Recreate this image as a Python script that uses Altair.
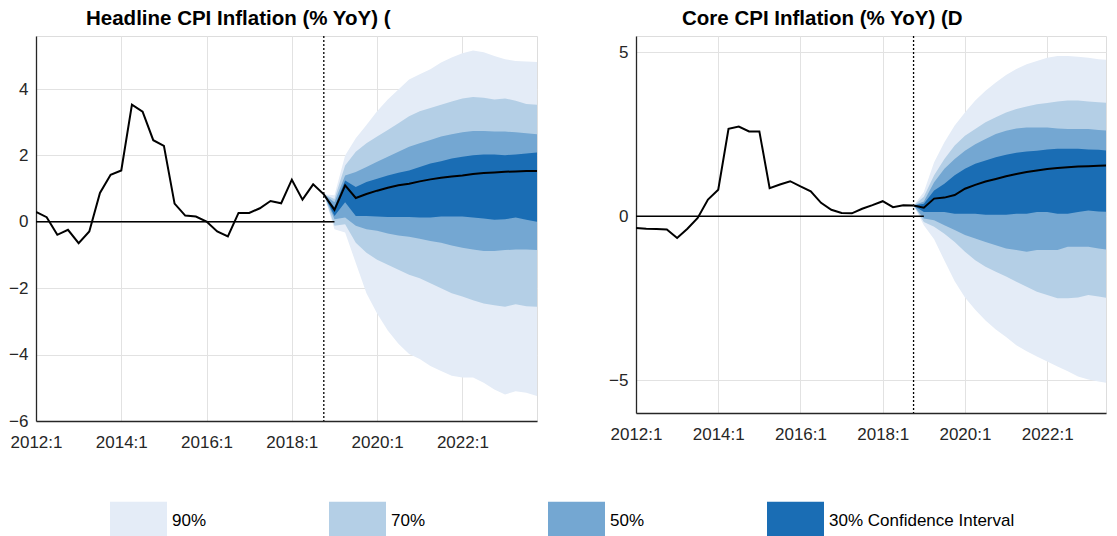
import altair as alt
import pandas as pd

# ---------------- data ----------------
hist_periods = [f"{y}:{q}" for y in range(2012, 2019) for q in range(1, 5)]
fc_periods = [f"{y}:{q}" for y in range(2019, 2024) for q in range(1, 5)]
x_tick_years = [2012, 2014, 2016, 2018, 2020, 2022]
forecast_start = "2018:4"
zero_line_span = ["2012:1", "2019:1"]

band_names = ["90%", "70%", "50%", "30% Confidence Interval"]
band_colors = ["#e4ecf7", "#b4cfe6", "#74a7d2", "#1a6db4"]

# Headline CPI
headline_hist = [0.30, 0.14, -0.39, -0.24, -0.64, -0.29, 0.87, 1.42,
                 1.55, 3.53, 3.32, 2.46, 2.29, 0.55, 0.19, 0.16,
                 0.01, -0.29, -0.44, 0.27, 0.27, 0.41, 0.63, 0.56,
                 1.27, 0.67, 1.13, 0.83]
headline_med = [0.36, 1.10, 0.72, 0.84, 0.94, 1.03, 1.10, 1.15, 1.22, 1.28,
                1.33, 1.37, 1.40, 1.44, 1.47, 1.49, 1.51, 1.52, 1.53, 1.53]
h90_hi = [0.80, 2.00, 2.52, 2.92, 3.33, 3.69, 3.99, 4.29, 4.45, 4.60,
          4.80, 4.95, 5.08, 5.16, 5.11, 5.00, 4.90, 4.85, 4.83, 4.82]
h90_lo = [-0.22, -0.32, -1.24, -2.15, -2.76, -3.27, -3.67, -3.98, -4.13, -4.34,
          -4.49, -4.64, -4.69, -4.69, -4.85, -5.05, -5.20, -5.10, -5.15, -5.25]
h70_hi = [0.69, 1.70, 2.11, 2.37, 2.57, 2.77, 2.97, 3.18, 3.33, 3.43,
          3.53, 3.63, 3.72, 3.76, 3.74, 3.69, 3.72, 3.65, 3.55, 3.53]
h70_lo = [-0.12, -0.07, -0.63, -0.93, -1.14, -1.29, -1.44, -1.59, -1.70, -1.85,
          -2.00, -2.15, -2.25, -2.36, -2.46, -2.51, -2.56, -2.48, -2.54, -2.56]
h50_hi = [0.59, 1.40, 1.50, 1.65, 1.81, 1.96, 2.11, 2.26, 2.37, 2.47,
          2.57, 2.64, 2.70, 2.74, 2.74, 2.72, 2.72, 2.70, 2.67, 2.64]
h50_lo = [0.08, 0.13, -0.12, -0.22, -0.27, -0.35, -0.41, -0.45, -0.51, -0.58,
          -0.63, -0.71, -0.78, -0.83, -0.88, -0.88, -0.85, -0.83, -0.83, -0.85]
h30_hi = [0.44, 1.25, 1.05, 1.20, 1.30, 1.40, 1.48, 1.55, 1.65, 1.76,
          1.83, 1.91, 1.96, 2.01, 2.03, 2.03, 2.01, 2.03, 2.06, 2.09]
h30_lo = [0.18, 0.59, 0.18, 0.18, 0.16, 0.15, 0.15, 0.15, 0.13, 0.13,
          0.16, 0.16, 0.16, 0.13, 0.10, 0.06, 0.08, 0.13, 0.06, 0.00]

# Core CPI
core_hist = [-0.36, -0.38, -0.39, -0.40, -0.66, -0.38, -0.05, 0.51,
             0.81, 2.67, 2.74, 2.59, 2.59, 0.86, 0.97, 1.07,
             0.91, 0.76, 0.41, 0.20, 0.10, 0.09, 0.23, 0.34,
             0.46, 0.28, 0.34, 0.33]
core_med = [0.26, 0.54, 0.57, 0.65, 0.84, 0.96, 1.06, 1.14, 1.22, 1.29,
            1.35, 1.40, 1.44, 1.47, 1.50, 1.52, 1.53, 1.54, 1.55, 1.56]
c90_hi = [0.74, 1.65, 2.26, 2.77, 3.17, 3.53, 3.83, 4.08, 4.31, 4.49,
          4.64, 4.74, 4.84, 4.89, 4.89, 4.87, 4.84, 4.79, 4.77, 4.74]
c90_lo = [-0.27, -0.70, -1.35, -1.98, -2.48, -2.85, -3.18, -3.45, -3.68, -3.93,
          -4.12, -4.28, -4.43, -4.58, -4.73, -4.89, -4.98, -5.04, -5.09, -5.09]
c70_hi = [0.60, 1.25, 1.75, 2.16, 2.46, 2.66, 2.87, 3.02, 3.17, 3.27,
          3.35, 3.42, 3.46, 3.50, 3.53, 3.53, 3.50, 3.48, 3.46, 3.46]
c70_lo = [-0.17, -0.32, -0.53, -0.78, -1.08, -1.34, -1.54, -1.69, -1.84, -2.00,
          -2.15, -2.30, -2.40, -2.50, -2.50, -2.48, -2.40, -2.45, -2.50, -2.50]
c50_hi = [0.45, 1.04, 1.45, 1.75, 2.00, 2.20, 2.36, 2.51, 2.61, 2.68,
          2.71, 2.71, 2.71, 2.68, 2.66, 2.66, 2.66, 2.63, 2.61, 2.59]
c50_lo = [-0.07, -0.12, -0.27, -0.42, -0.57, -0.68, -0.78, -0.88, -0.98, -1.03,
          -1.08, -1.03, -1.03, -1.03, -0.93, -0.93, -0.93, -0.98, -1.03, -1.03]
c30_hi = [0.38, 0.79, 0.99, 1.25, 1.45, 1.60, 1.70, 1.80, 1.88, 1.94,
          1.98, 2.00, 2.04, 2.06, 2.06, 2.06, 2.04, 2.03, 2.00, 2.00]
c30_lo = [0.13, 0.13, 0.13, 0.08, 0.08, 0.08, 0.05, 0.05, 0.05, 0.08,
          0.08, 0.13, 0.13, 0.08, 0.08, 0.13, 0.18, 0.15, 0.13, 0.13]

FONT = "Liberation Sans"
TEXT = "#262626"


def to_num(p):
    y, q = p.split(":")
    return int(y) + (int(q) - 1) / 4.0


def panel(title, title_dx, hist, med, bands, ydomain, yticks, width, height, xmax):
    th = [to_num(p) for p in hist_periods]
    tf = [to_num(p) for p in fc_periods]
    line_df = pd.DataFrame({"t": th + tf, "v": hist + med})
    rows = []
    for name, (lo, hi) in zip(band_names, bands):
        rows.append({"t": th[-1], "lo": hist[-1], "hi": hist[-1], "band": name})
        for t, l, h in zip(tf, lo, hi):
            rows.append({"t": t, "lo": l, "hi": h, "band": name})
    band_df = pd.DataFrame(rows)
    zero_df = pd.DataFrame({"t0": [to_num(zero_line_span[0])],
                            "t1": [to_num(zero_line_span[1])], "v": [0.0]})
    fs_df = pd.DataFrame({"t": [to_num(forecast_start)]})

    xscale = alt.Scale(domain=[2012, xmax], nice=False, zero=False)
    yscale = alt.Scale(domain=ydomain, nice=False, zero=False)
    xaxis = alt.Axis(values=x_tick_years, labelExpr="datum.value + ':1'",
                     title=None, grid=True, ticks=False, labelPadding=13,
                     labelFontSize=17, labelFont=FONT, labelColor=TEXT,
                     domainColor=TEXT, domainWidth=1.3, gridColor="#e2e2e2",
                     labelFlush=False)
    yaxis = alt.Axis(values=yticks, title=None, grid=True, ticks=False,
                     labelPadding=8, labelFontSize=17, labelFont=FONT,
                     labelColor=TEXT, domainColor=TEXT, domainWidth=1.3,
                     gridColor="#e2e2e2")
    x = alt.X("t:Q", scale=xscale, axis=xaxis)
    color = alt.Color(
        "band:N",
        scale=alt.Scale(domain=band_names, range=band_colors),
        legend=alt.Legend(
            orient="none", legendX=74, legendY=456, direction="horizontal",
            title=None, symbolType="M-1,-0.667H1V0.667H-1Z", symbolSize=3249,
            symbolStrokeWidth=0, symbolOpacity=1, labelFontSize=17,
            labelFont=FONT, labelColor="black", labelOffset=5,
            columnPadding=122, padding=0, labelLimit=400),
    )
    layers = []
    for name in band_names:
        layers.append(
            alt.Chart(band_df).transform_filter(alt.datum.band == name)
            .mark_area(clip=True, opacity=1, interpolate="linear")
            .encode(x=x, y=alt.Y("lo:Q", scale=yscale, axis=yaxis),
                    y2="hi:Q", color=color)
        )
    layers.append(
        alt.Chart(zero_df).mark_rule(color="black", strokeWidth=1.5)
        .encode(x=alt.X("t0:Q", scale=xscale, axis=xaxis), x2="t1:Q",
                y=alt.Y("v:Q", scale=yscale, axis=yaxis))
    )
    layers.append(
        alt.Chart(line_df).mark_line(color="black", strokeWidth=2, clip=True)
        .encode(x=x, y=alt.Y("v:Q", scale=yscale, axis=yaxis))
    )
    layers.append(
        alt.Chart(fs_df).mark_rule(color="black", strokeWidth=1.3,
                                   strokeDash=[2, 2])
        .encode(x=alt.X("t:Q", scale=xscale, axis=xaxis))
    )
    return alt.layer(*layers).properties(
        width=width, height=height,
        title=alt.TitleParams(title, anchor="start", frame="group", dx=title_dx,
                              fontSize=20.5, font=FONT, fontWeight="bold",
                              color="black", offset=6),
    )


left = panel("Headline CPI Inflation (% YoY) (", 50, headline_hist, headline_med,
             [(h90_lo, h90_hi), (h70_lo, h70_hi), (h50_lo, h50_hi), (h30_lo, h30_hi)],
             [-6, 5.6], [-6, -4, -2, 0, 2, 4], 501, 385, 2023.75)
right = panel("Core CPI Inflation (% YoY) (D", 46, core_hist, core_med,
              [(c90_lo, c90_hi), (c70_lo, c70_hi), (c50_lo, c50_hi), (c30_lo, c30_hi)],
              [-6, 5.5], [-5, 0, 5], 470, 377, 2023.43)

chart = alt.hconcat(left, right, spacing=99, bounds="flush").properties(
    padding={"left": 0, "top": 0, "right": 0, "bottom": 0}
).configure_view(stroke=None).configure(background="white")

chart.save("out.html", embed_options={"renderer": "svg", "actions": False})
